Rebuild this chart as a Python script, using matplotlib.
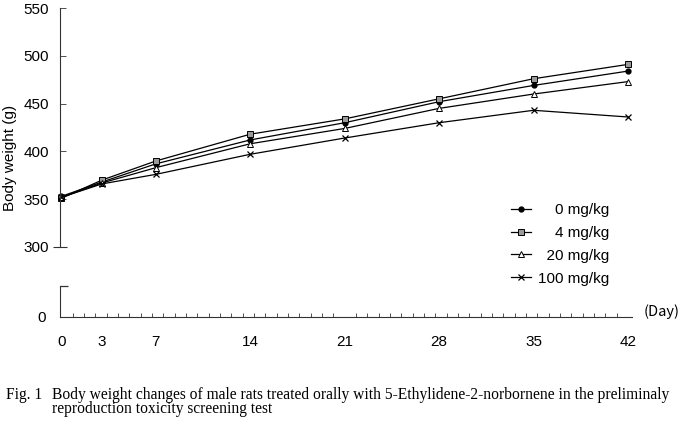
import matplotlib
matplotlib.use('Agg')
import matplotlib.pyplot as plt
from matplotlib.lines import Line2D
import numpy as np

# ---- data ----
days = [0, 3, 7, 14, 21, 28, 35, 42]
w_0 = [353, 368, 387, 412, 430, 452, 469, 484]
w_4 = [351, 370, 390, 418, 434, 455, 476, 491]
w_20 = [352, 367, 383, 408, 424, 445, 460, 473]
w_100 = [352, 366, 376, 397, 414, 430, 443, 436]
doses = ['0', '4', '20', '100']
unit = 'mg/kg'
y_major = [300]
y_minor = [350, 400, 450, 500, 550]
x_labels = ['0', '3', '7', '14', '21', '28', '35', '42']

plt.rcParams['font.family'] = ['Liberation Sans', 'DejaVu Sans']

W, H = 682, 432
fig = plt.figure(figsize=(W / 100, H / 100), dpi=100)


def rect(l, t, r, b):
    return [l / W, 1 - b / H, (r - l) / W, (b - t) / H]


ax = fig.add_axes(rect(60, 8, 632, 247))
axb = fig.add_axes(rect(60, 286, 632, 317))
xmin, xmax = -0.11, 42.3
axcol = '#333333'

for a in (ax, axb):
    a.set_xlim(xmin, xmax)
    for s in ('top', 'right'):
        a.spines[s].set_visible(False)
    a.spines['left'].set_color(axcol)
    a.spines['left'].set_linewidth(0.8)
    a.patch.set_alpha(0)

ax.spines['bottom'].set_visible(False)
ax.set_ylim(300, 550)
ax.set_xticks([])
ax.set_yticks(y_major, labels=[str(v) for v in y_major])
ax.set_yticks(y_minor, labels=[str(v) for v in y_minor], minor=True)
ax.tick_params(axis='y', which='major', direction='inout', length=10, width=0.8,
               color=axcol, pad=3, labelsize=11)
ax.tick_params(axis='y', which='minor', direction='in', length=4, width=0.6,
               color=axcol, pad=8, labelsize=11)

styles = [
    dict(marker='o', markersize=3.5, markerfacecolor='black', markeredgecolor='black'),
    dict(marker='s', markersize=4, markerfacecolor='#9a9a9a', markeredgecolor='black', markeredgewidth=0.7),
    dict(marker='^', markersize=4, markerfacecolor='white', markeredgecolor='black', markeredgewidth=0.7),
    dict(marker='x', markersize=4.5, markeredgecolor='black', markeredgewidth=0.9),
]
series = [w_0, w_4, w_20, w_100]
width = max(len(d) for d in doses)
labels = ['\u2007' * (width - len(d)) + d + ' ' + unit for d in doses]
handles = []
for vals, st in zip(series, styles):
    ax.plot(days, vals, color='black', linewidth=0.9, clip_on=False, **st)
    handles.append(Line2D([], [], color='black', linewidth=0.9, **st))

# lower broken segment
axb.set_ylim(0, 1)
axb.spines['bottom'].set_color(axcol)
axb.spines['bottom'].set_linewidth(0.8)
axb.set_yticks([0], labels=['0'])
axb.set_yticks([1], labels=[''], minor=True)
axb.tick_params(axis='y', which='major', length=0, pad=10, labelsize=11)
axb.tick_params(axis='y', which='minor', direction='in', length=6, width=0.9, color=axcol)
axb.set_xticks(days, labels=x_labels)
axb.set_xticks(np.arange(0, 42.3, 0.84), minor=True)
axb.tick_params(axis='x', which='major', length=0, pad=13, labelsize=11)
axb.tick_params(axis='x', which='minor', direction='in', length=3, width=0.6, color=axcol)

fig.text(644 / W, 1 - 312 / H, '(Day)', fontsize=10.5, va='center', ha='left',
         family=['Noto Sans CJK KR', 'DejaVu Sans'])

fig.text(10 / W, 1 - 158 / H, 'Body weight (g)', rotation=90, fontsize=11,
         va='center', ha='center')

leg = ax.legend(handles, labels, loc='upper left',
                bbox_to_anchor=(511 / W, 1 - 203 / H), bbox_transform=fig.transFigure,
                frameon=False, handlelength=1.3, handletextpad=0.5, labelspacing=0.58,
                borderpad=0, borderaxespad=0, fontsize=11)

cap_font = ['Liberation Serif', 'DejaVu Serif']
fig.text(6 / W, 1 - 395 / H, 'Fig. 1', fontsize=11.2, va='center', ha='left', family=cap_font)
fig.text(52 / W, 1 - 402 / H,
         'Body weight changes of male rats treated orally with 5-Ethylidene-2-norbornene in the preliminaly\n'
         'reproduction toxicity screening test',
         fontsize=11.2, va='center', ha='left', family=cap_font, linespacing=0.85)

fig.savefig('out.png', dpi=100)
